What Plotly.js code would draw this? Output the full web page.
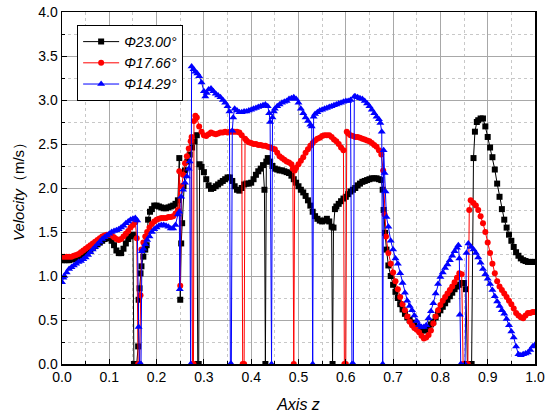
<!DOCTYPE html>
<html>
<head>
<meta charset="utf-8">
<script src="https://cdn.plot.ly/plotly-3.0.1.min.js"></script>
<style>html,body{margin:0;padding:0;background:#fff;}#chart{width:550px;height:419px;}</style>
</head>
<body>
<div id="chart"></div>
<script>
const seriesNames = ["Φ23.00°", "Φ17.66°", "Φ14.29°"];

const xBlack = [0.000,0.005,0.010,0.015,0.020,0.025,0.030,0.035,0.040,0.045,0.050,0.055,0.060,0.065,0.070,0.075,0.080,0.085,0.090,0.095,0.100,0.105,0.110,0.115,0.120,0.125,0.130,0.135,0.140,0.145,0.150,0.152,0.158,0.161,0.162,0.164,0.166,0.168,0.172,0.176,0.179,0.182,0.186,0.190,0.195,0.200,0.205,0.210,0.215,0.220,0.225,0.230,0.235,0.240,0.245,0.248,0.250,0.252,0.254,0.257,0.260,0.265,0.270,0.275,0.280,0.285,0.287,0.289,0.291,0.295,0.300,0.305,0.310,0.315,0.320,0.325,0.330,0.335,0.340,0.345,0.350,0.355,0.360,0.365,0.370,0.375,0.380,0.385,0.390,0.395,0.400,0.405,0.410,0.415,0.420,0.425,0.428,0.430,0.432,0.435,0.440,0.445,0.450,0.455,0.460,0.465,0.470,0.475,0.480,0.485,0.490,0.495,0.500,0.505,0.510,0.515,0.520,0.525,0.530,0.535,0.540,0.545,0.550,0.555,0.560,0.565,0.570,0.572,0.574,0.577,0.580,0.585,0.590,0.595,0.600,0.605,0.610,0.615,0.620,0.625,0.630,0.635,0.640,0.645,0.650,0.655,0.660,0.665,0.670,0.675,0.678,0.680,0.683,0.686,0.690,0.695,0.700,0.705,0.710,0.715,0.720,0.725,0.730,0.735,0.740,0.745,0.750,0.755,0.760,0.765,0.770,0.775,0.780,0.785,0.790,0.795,0.800,0.805,0.810,0.815,0.820,0.825,0.830,0.835,0.840,0.845,0.850,0.854,0.857,0.866,0.870,0.873,0.877,0.880,0.885,0.890,0.895,0.900,0.905,0.910,0.915,0.920,0.925,0.930,0.935,0.940,0.945,0.950,0.955,0.960,0.965,0.970,0.975,0.980,0.985,0.990,0.995,1.000];
const yBlack = [1.18,1.18,1.18,1.18,1.19,1.19,1.20,1.21,1.22,1.24,1.26,1.28,1.30,1.32,1.34,1.36,1.38,1.40,1.42,1.43,1.43,1.40,1.35,1.29,1.26,1.26,1.31,1.37,1.42,1.45,1.47,0,0,0.20,0.73,0.86,1.03,1.11,1.22,1.30,1.35,1.64,1.73,1.76,1.80,1.80,1.79,1.78,1.77,1.77,1.78,1.79,1.80,1.82,1.86,2.34,0.73,1.37,1.60,2.02,2.20,2.30,2.38,2.46,2.53,2.60,0,0,2.27,2.24,2.18,2.10,2.03,1.99,2.00,2.02,2.04,2.06,2.08,2.10,2.12,2.12,2.08,2.02,1.98,1.97,2.00,2.04,2.05,2.05,2.06,2.10,2.15,2.19,2.22,2.26,1.98,0,2.30,2.34,2.30,2.25,2.22,2.21,2.20,2.20,2.19,2.18,2.17,2.14,2.10,2.06,2.02,1.98,1.95,1.91,1.86,1.80,1.73,1.68,1.65,1.63,1.62,1.63,1.65,1.62,1.56,0,1.55,1.76,1.79,1.82,1.85,1.88,1.90,1.93,1.96,1.98,2.00,2.03,2.05,2.07,2.08,2.09,2.10,2.11,2.11,2.11,2.10,2.09,1.98,1.75,1.49,1.30,1.12,1.00,0.90,0.82,0.75,0.68,0.62,0.57,0.53,0.50,0.47,0.44,0.41,0.39,0.38,0.38,0.39,0.41,0.45,0.48,0.53,0.57,0.61,0.65,0.69,0.73,0.77,0.81,0.85,0.88,0.90,0.92,0.92,0.85,0,0,2.34,2.64,2.75,2.77,2.79,2.79,2.70,2.58,2.46,2.35,2.21,2.05,1.90,1.76,1.64,1.55,1.47,1.40,1.33,1.27,1.23,1.20,1.18,1.17,1.16,1.16,1.16,1.16];

const xRed = [0.000,0.005,0.010,0.015,0.020,0.025,0.030,0.035,0.040,0.045,0.050,0.055,0.060,0.065,0.070,0.075,0.080,0.085,0.090,0.095,0.100,0.105,0.110,0.115,0.120,0.125,0.130,0.135,0.140,0.145,0.150,0.155,0.158,0.161,0.164,0.166,0.168,0.172,0.176,0.180,0.185,0.190,0.195,0.200,0.205,0.210,0.215,0.220,0.225,0.230,0.235,0.240,0.245,0.248,0.250,0.253,0.256,0.260,0.264,0.268,0.272,0.274,0.276,0.278,0.279,0.282,0.285,0.290,0.295,0.300,0.305,0.310,0.315,0.320,0.325,0.330,0.335,0.340,0.345,0.350,0.355,0.360,0.365,0.370,0.375,0.380,0.382,0.385,0.387,0.390,0.395,0.400,0.405,0.410,0.415,0.420,0.425,0.430,0.435,0.440,0.445,0.450,0.455,0.460,0.465,0.470,0.475,0.480,0.485,0.488,0.490,0.492,0.495,0.500,0.505,0.510,0.515,0.520,0.525,0.530,0.535,0.540,0.545,0.550,0.555,0.560,0.565,0.570,0.575,0.580,0.585,0.590,0.595,0.597,0.600,0.602,0.605,0.610,0.615,0.620,0.625,0.630,0.635,0.640,0.645,0.650,0.655,0.660,0.665,0.670,0.675,0.679,0.682,0.685,0.690,0.695,0.700,0.705,0.710,0.715,0.720,0.725,0.730,0.735,0.740,0.745,0.750,0.755,0.760,0.765,0.770,0.775,0.780,0.785,0.790,0.795,0.800,0.805,0.810,0.815,0.820,0.825,0.830,0.835,0.840,0.845,0.848,0.858,0.861,0.864,0.870,0.875,0.880,0.885,0.890,0.895,0.900,0.905,0.910,0.915,0.920,0.925,0.930,0.935,0.940,0.945,0.950,0.955,0.960,0.965,0.970,0.975,0.980,0.985,0.990,0.995,1.000];
const yRed = [1.22,1.22,1.22,1.22,1.22,1.23,1.24,1.25,1.27,1.29,1.31,1.33,1.35,1.37,1.39,1.41,1.43,1.45,1.46,1.47,1.47,1.46,1.44,1.42,1.41,1.42,1.45,1.48,1.51,1.55,1.58,1.61,1.43,0,0,0.78,1.30,1.38,1.45,1.50,1.55,1.59,1.62,1.64,1.65,1.66,1.66,1.66,1.67,1.67,1.68,1.71,1.75,2.19,0.89,2.02,2.15,2.28,2.36,2.45,2.53,2.58,0,0,2.76,2.82,2.80,2.70,2.64,2.60,2.59,2.61,2.63,2.62,2.61,2.62,2.63,2.63,2.64,2.63,2.64,2.64,2.64,2.64,2.63,2.60,0,0,2.56,2.54,2.52,2.51,2.50,2.50,2.49,2.49,2.48,2.48,2.47,2.46,2.45,2.44,2.40,2.36,2.34,2.32,2.30,2.29,2.27,2.22,0,2.20,2.23,2.27,2.31,2.35,2.40,2.44,2.48,2.51,2.54,2.56,2.57,2.59,2.60,2.60,2.60,2.58,2.55,2.53,2.50,2.46,2.43,0,0,2.64,2.62,2.60,2.59,2.58,2.58,2.57,2.56,2.55,2.54,2.53,2.51,2.49,2.47,2.43,2.38,2.20,1.70,1.45,1.26,1.14,1.04,0.94,0.85,0.76,0.68,0.61,0.54,0.48,0.44,0.41,0.39,0.36,0.32,0.29,0.30,0.33,0.38,0.46,0.54,0.61,0.67,0.72,0.76,0.80,0.84,0.88,0.93,0.98,1.03,1.02,0,0,1.75,1.86,1.83,1.80,1.75,1.68,1.60,1.50,1.38,1.26,1.14,1.03,0.94,0.88,0.84,0.80,0.76,0.72,0.68,0.63,0.58,0.55,0.53,0.52,0.55,0.58,0.58,0.59,0.59];

const xBlue = [0.000,0.003,0.005,0.010,0.015,0.020,0.025,0.030,0.035,0.040,0.045,0.050,0.055,0.060,0.065,0.070,0.075,0.080,0.085,0.090,0.095,0.100,0.105,0.110,0.115,0.120,0.125,0.130,0.135,0.140,0.145,0.150,0.155,0.159,0.162,0.164,0.167,0.169,0.172,0.176,0.180,0.185,0.190,0.195,0.200,0.205,0.210,0.215,0.220,0.225,0.230,0.235,0.240,0.245,0.248,0.249,0.252,0.256,0.260,0.264,0.268,0.270,0.272,0.274,0.278,0.282,0.286,0.290,0.295,0.300,0.303,0.306,0.310,0.315,0.320,0.325,0.330,0.335,0.340,0.345,0.350,0.354,0.356,0.358,0.360,0.362,0.365,0.370,0.375,0.380,0.385,0.390,0.395,0.400,0.405,0.410,0.415,0.420,0.425,0.430,0.435,0.438,0.440,0.443,0.445,0.448,0.450,0.455,0.460,0.465,0.470,0.475,0.480,0.485,0.490,0.495,0.500,0.505,0.510,0.515,0.520,0.525,0.528,0.530,0.532,0.535,0.540,0.545,0.550,0.555,0.560,0.565,0.570,0.575,0.580,0.585,0.590,0.595,0.600,0.605,0.610,0.613,0.616,0.618,0.620,0.625,0.630,0.635,0.640,0.645,0.650,0.655,0.660,0.665,0.670,0.673,0.676,0.678,0.680,0.682,0.684,0.686,0.690,0.695,0.700,0.705,0.710,0.715,0.720,0.725,0.730,0.735,0.740,0.745,0.750,0.755,0.760,0.765,0.770,0.775,0.780,0.785,0.790,0.795,0.800,0.805,0.810,0.815,0.820,0.825,0.830,0.835,0.838,0.840,0.841,0.843,0.852,0.855,0.859,0.865,0.870,0.875,0.880,0.885,0.890,0.895,0.900,0.905,0.910,0.915,0.920,0.925,0.930,0.935,0.940,0.945,0.950,0.955,0.960,0.965,0.970,0.975,0.980,0.985,0.990,0.995,1.000];
const yBlue = [0.93,0.98,1.00,1.04,1.08,1.10,1.12,1.14,1.16,1.17,1.19,1.21,1.24,1.27,1.30,1.33,1.36,1.39,1.42,1.44,1.46,1.48,1.50,1.51,1.52,1.53,1.55,1.57,1.60,1.62,1.64,1.65,1.66,1.63,0.42,0,0,1.28,1.31,1.36,1.41,1.45,1.50,1.53,1.55,1.57,1.58,1.58,1.57,1.56,1.54,1.54,1.58,1.70,1.73,0.85,1.90,1.98,2.06,2.13,2.22,2.30,0,3.38,3.35,3.32,3.30,3.27,3.20,3.10,3.04,3.08,3.12,3.13,3.10,3.07,3.05,3.03,3.00,2.97,2.93,2.87,0,0,2.65,2.80,2.90,2.88,2.86,2.86,2.87,2.87,2.88,2.89,2.90,2.91,2.92,2.93,2.94,2.95,2.93,2.85,2.75,0,2.80,2.87,2.90,2.93,2.95,2.97,2.98,2.99,3.01,3.02,3.03,3.01,2.97,2.90,2.85,2.80,2.76,2.72,2.70,0,2.81,2.84,2.86,2.88,2.89,2.90,2.91,2.92,2.93,2.94,2.95,2.96,2.97,2.98,2.99,2.99,3.00,0,0,3.04,3.04,3.03,3.02,3.01,2.99,2.96,2.93,2.89,2.85,2.81,2.78,2.74,2.64,0,2.43,2.17,1.96,1.67,1.56,1.40,1.30,1.20,1.14,1.03,0.92,0.81,0.72,0.66,0.61,0.55,0.49,0.44,0.42,0.42,0.44,0.52,0.60,0.69,0.80,0.91,0.99,1.04,1.09,1.13,1.18,1.23,1.28,1.32,1.35,1.20,0.56,0,0,1.26,1.37,1.33,1.30,1.26,1.21,1.15,1.08,1.02,0.97,0.91,0.84,0.77,0.71,0.66,0.61,0.57,0.51,0.44,0.37,0.30,0.20,0.11,0.10,0.11,0.12,0.13,0.16,0.20,0.22];

const xTickVals = [0,0.1,0.2,0.3,0.4,0.5,0.6,0.7,0.8,0.9,1.0];
const xTickText = ["0.0","0.1","0.2","0.3","0.4","0.5","0.6","0.7","0.8","0.9","1.0"];
const yTickVals = [0,0.5,1,1.5,2,2.5,3,3.5,4];
const yTickText = ["0.0","0.5","1.0","1.5","2.0","2.5","3.0","3.5","4.0"];

const colors = ["#000000", "#ff0000", "#0000ff"];
const symbols = ["square", "circle", "triangle-up"];
const sizes = [6, 6, 7];
const xs = [xBlack, xRed, xBlue];
const ys = [yBlack, yRed, yBlue];

const traces = seriesNames.map((name, i) => ({
  x: xs[i], y: ys[i], name: "<i>" + name + "</i>",
  type: "scatter", mode: "lines+markers",
  line: {color: colors[i], width: 1},
  marker: {color: colors[i], symbol: symbols[i], size: sizes[i], line: {width: 0}}
}));

const font = "Liberation Sans, Arial, sans-serif";
const axisCommon = {
  showline: true, linecolor: "#000", linewidth: 1.5, mirror: true,
  ticks: "inside", ticklen: 5, tickwidth: 1, tickcolor: "#000",
  showgrid: true, gridcolor: "#a8a8a8", gridwidth: 1,
  zeroline: false,
  tickfont: {family: font, size: 14, color: "#000"},
  tickmode: "array"
};

const layout = {
  width: 550, height: 419,
  margin: {l: 62, r: 15, t: 12, b: 55},
  paper_bgcolor: "#fff", plot_bgcolor: "#fff",
  showlegend: true,
  legend: {
    x: 0.032, y: 0.963, xanchor: "left", yanchor: "top",
    bgcolor: "#fff", bordercolor: "#000", borderwidth: 1,
    font: {family: font, size: 14, color: "#000"},
    itemwidth: 36, tracegroupgap: 0
  },
  xaxis: Object.assign({}, axisCommon, {
    range: [0, 1], tickvals: xTickVals, ticktext: xTickText,
    minor: {dtick: 0.05, ticks: "inside", ticklen: 3, tickcolor: "#000", showgrid: true, gridcolor: "#c8c8c8", griddash: "dot", gridwidth: 1},
    title: {text: "<i>Axis z</i>", font: {family: font, size: 16, color: "#000"}, standoff: 14}
  }),
  yaxis: Object.assign({}, axisCommon, {
    range: [0, 4], tickvals: yTickVals, ticktext: yTickText,
    minor: {dtick: 0.25, ticks: "inside", ticklen: 3, tickcolor: "#000", showgrid: true, gridcolor: "#c8c8c8", griddash: "dot", gridwidth: 1},
    title: {text: "<i>Velocity</i>（m/s）", font: {family: font, size: 15, color: "#000"}, standoff: 10}
  })
};

Plotly.newPlot("chart", traces, layout, {displayModeBar: false, staticPlot: true});
</script>
</body>
</html>
